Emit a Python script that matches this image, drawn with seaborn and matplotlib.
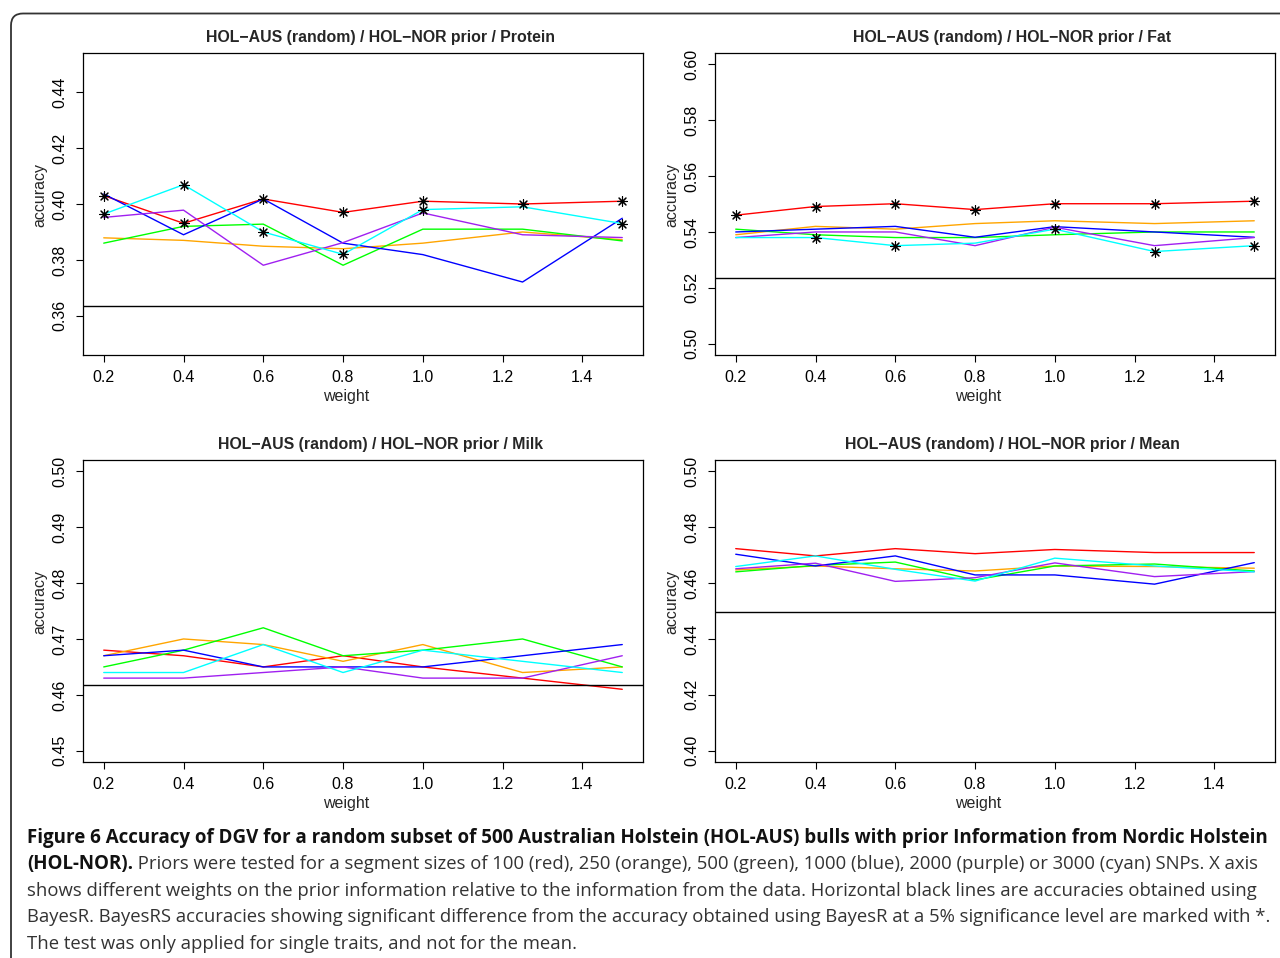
import matplotlib
matplotlib.use("Agg")
import matplotlib.pyplot as plt
import pandas as pd
import seaborn as sns
from matplotlib.patches import FancyBboxPatch
from matplotlib.transforms import IdentityTransform

# x values (weight on prior information)
WEIGHTS = [0.2, 0.4, 0.6, 0.8, 1.0, 1.25, 1.5]
SEGMENTS = ["100", "250", "500", "1000", "2000", "3000"]
SEG_COLORS = ["#FF0000", "#FFA500", "#00FF00", "#0000FF", "#A020F0", "#00FFFF"]

# accuracies, one row per segment size (same order as SEGMENTS)
protein_acc = [
    [0.4030, 0.3931, 0.4018, 0.3970, 0.4010, 0.4000, 0.4010],
    [0.3879, 0.3870, 0.3849, 0.3840, 0.3860, 0.3900, 0.3872],
    [0.3860, 0.3920, 0.3928, 0.3781, 0.3910, 0.3910, 0.3868],
    [0.4036, 0.3890, 0.4018, 0.3860, 0.3819, 0.3721, 0.3949],
    [0.3952, 0.3978, 0.3781, 0.3862, 0.3968, 0.3890, 0.3880],
    [0.3964, 0.4069, 0.3900, 0.3820, 0.3980, 0.3990, 0.3930],
]
fat_acc = [
    [0.5460, 0.5491, 0.5501, 0.5480, 0.5501, 0.5501, 0.5510],
    [0.5390, 0.5420, 0.5410, 0.5430, 0.5440, 0.5430, 0.5440],
    [0.5410, 0.5390, 0.5380, 0.5380, 0.5390, 0.5400, 0.5400],
    [0.5400, 0.5410, 0.5420, 0.5381, 0.5419, 0.5400, 0.5381],
    [0.5380, 0.5400, 0.5400, 0.5351, 0.5417, 0.5351, 0.5380],
    [0.5380, 0.5380, 0.5351, 0.5360, 0.5410, 0.5330, 0.5351],
]
milk_acc = [
    [0.468, 0.467, 0.465, 0.467, 0.465, 0.463, 0.461],
    [0.467, 0.470, 0.469, 0.466, 0.469, 0.464, 0.465],
    [0.465, 0.468, 0.472, 0.467, 0.468, 0.470, 0.465],
    [0.467, 0.468, 0.465, 0.465, 0.465, 0.467, 0.469],
    [0.463, 0.463, 0.464, 0.465, 0.463, 0.463, 0.467],
    [0.464, 0.464, 0.469, 0.464, 0.468, 0.466, 0.464],
]
mean_acc = [
    [0.4723, 0.4697, 0.4723, 0.4705, 0.4720, 0.4709, 0.4709],
    [0.4647, 0.4661, 0.4651, 0.4643, 0.4661, 0.4659, 0.4653],
    [0.4640, 0.4663, 0.4675, 0.4611, 0.4661, 0.4668, 0.4643],
    [0.4703, 0.4661, 0.4697, 0.4629, 0.4629, 0.4596, 0.4673],
    [0.4651, 0.4671, 0.4606, 0.4619, 0.4672, 0.4623, 0.4641],
    [0.4659, 0.4697, 0.4649, 0.4607, 0.4689, 0.4661, 0.4640],
]

# BayesR accuracy (horizontal black line)
protein_bayesr = 0.3634
fat_bayesr = 0.5235
milk_bayesr = 0.4617
mean_bayesr = 0.4496

# significance flags (1 = marked with *), per segment size
protein_sig = [
    [1, 1, 1, 1, 1, 1, 1],
    [0, 0, 0, 0, 0, 0, 0],
    [0, 0, 0, 0, 0, 0, 0],
    [0, 0, 0, 0, 0, 0, 0],
    [0, 0, 0, 0, 0, 0, 0],
    [1, 1, 1, 1, 1, 0, 1],
]
fat_sig = [
    [1, 1, 1, 1, 1, 1, 1],
    [0, 0, 0, 0, 0, 0, 0],
    [0, 0, 0, 0, 0, 0, 0],
    [0, 0, 0, 0, 0, 0, 0],
    [0, 0, 0, 0, 0, 0, 0],
    [0, 1, 1, 0, 1, 1, 1],
]
no_sig = [[0] * 7 for _ in SEGMENTS]

X_TICKS = [0.2, 0.4, 0.6, 0.8, 1.0, 1.2, 1.4]
protein_yticks = [0.36, 0.38, 0.40, 0.42, 0.44]
fat_yticks = [0.50, 0.52, 0.54, 0.56, 0.58, 0.60]
milk_yticks = [0.45, 0.46, 0.47, 0.48, 0.49, 0.50]
mean_yticks = [0.40, 0.42, 0.44, 0.46, 0.48, 0.50]

CAPTION_BOLD_1 = ("Figure 6 Accuracy of DGV for a random subset of 500 Australian Holstein "
                  "(HOL-AUS) bulls with prior Information from Nordic Holstein")
CAPTION_BOLD_2 = "(HOL-NOR)."
CAPTION_LINES = [
    " Priors were tested for a segment sizes of 100 (red), 250 (orange), 500 (green), "
    "1000 (blue), 2000 (purple) or 3000 (cyan) SNPs. X axis",
    "shows different weights on the prior information relative to the information from "
    "the data. Horizontal black lines are accuracies obtained using",
    "BayesR. BayesRS accuracies showing significant difference from the accuracy obtained "
    "using BayesR at a 5% significance level are marked with *.",
    "The test was only applied for single traits, and not for the mean.",
]


def to_long(acc, sig):
    rows = []
    for seg, vals, flags in zip(SEGMENTS, acc, sig):
        for w, v, f in zip(WEIGHTS, vals, flags):
            rows.append({"weight": w, "accuracy": v, "segment": seg, "sig": f})
    return pd.DataFrame(rows)


def draw_panel(ax, title, acc, sig, bayesr, ylim, yticks):
    df = to_long(acc, sig)
    sns.lineplot(data=df, x="weight", y="accuracy", hue="segment",
                 hue_order=SEGMENTS, palette=SEG_COLORS, errorbar=None,
                 linewidth=1.0, legend=False, ax=ax)
    stars = df[df["sig"] == 1]
    if len(stars):
        sns.scatterplot(data=stars, x="weight", y="accuracy", marker=(8, 2, 0),
                        color="black", s=50, linewidth=0.8, ax=ax, zorder=5)
    ax.axhline(bayesr, color="black", linewidth=1.0)

    ax.set_xlim(0.148, 1.552)
    ax.set_ylim(*ylim)
    ax.set_xticks(X_TICKS)
    ax.set_xticklabels([f"{t:.1f}" for t in X_TICKS])
    ax.set_yticks(yticks)
    ax.set_yticklabels([f"{t:.2f}" for t in yticks], rotation=90, va="center")
    ax.tick_params(direction="out", length=5, width=0.8, labelsize=11.5,
                   color="black", labelcolor="black", pad=6)
    for sp in ax.spines.values():
        sp.set_visible(True)
        sp.set_color("black")
        sp.set_linewidth(0.9)
    # titles/labels sit slightly off the plot centre in the original
    ax.set_title(title, fontsize=11.4, fontweight="bold", pad=8, x=0.5 + 17 / 560)
    ax.set_xlabel("weight", fontsize=11.5, labelpad=2)
    ax.xaxis.set_label_coords(0.5 - 17 / 560, -0.113)
    ax.set_ylabel("accuracy", fontsize=11.5)
    ax.yaxis.set_label_coords(-36 / 560, 0.5 + 9 / 302)


sns.set_theme(style="ticks")
plt.rcParams["font.family"] = ["Liberation Sans", "DejaVu Sans"]
plt.rcParams["axes.unicode_minus"] = True

W, H = 1280, 958
fig = plt.figure(figsize=(W / 100, H / 100), dpi=100)
fig.patch.set_facecolor("white")


def add_ax(left, top, width=560, height=302):
    return fig.add_axes([left / W, 1 - (top + height) / H, width / W, height / H])


ax1 = add_ax(83, 53)
ax2 = add_ax(715, 53)
ax3 = add_ax(83, 460)
ax4 = add_ax(715, 460)

prefix = "HOL\u2212AUS (random) / HOL\u2212NOR prior / "
draw_panel(ax1, prefix + "Protein", protein_acc, protein_sig, protein_bayesr,
           (0.346, 0.454), protein_yticks)
draw_panel(ax2, prefix + "Fat", fat_acc, fat_sig, fat_bayesr,
           (0.496, 0.604), fat_yticks)
draw_panel(ax3, prefix + "Milk", milk_acc, no_sig, milk_bayesr,
           (0.448, 0.502), milk_yticks)
draw_panel(ax4, prefix + "Mean", mean_acc, no_sig, mean_bayesr,
           (0.396, 0.504), mean_yticks)

# rounded frame around figure + caption
frame = FancyBboxPatch((11, -30), 1320, H - 13.5 + 30,
                       boxstyle="round,pad=0,rounding_size=12",
                       transform=IdentityTransform(), fill=False,
                       edgecolor="#333333", linewidth=1.3)
fig.add_artist(frame)

# caption
cap_font = ["Open Sans", "DejaVu Sans"]
bold_size = 13.5
reg_size = 13.3
x0 = 27 / W
line_y = [838, 864, 891, 917, 944]
fig.text(x0, 1 - line_y[0] / H, CAPTION_BOLD_1, family=cap_font, size=bold_size,
         weight="bold", color="#111111", va="center")
bold2 = fig.text(x0, 1 - line_y[1] / H, CAPTION_BOLD_2, family=cap_font, size=bold_size,
                 weight="bold", color="#111111", va="center")
renderer = fig.canvas.get_renderer()
bb = bold2.get_window_extent(renderer)
fig.text(bb.x1 / W, 1 - line_y[1] / H, CAPTION_LINES[0], family=cap_font,
         size=reg_size, color="#333333", va="center")
for yy, line in zip(line_y[2:], CAPTION_LINES[1:]):
    fig.text(x0, 1 - yy / H, line, family=cap_font, size=reg_size,
             color="#333333", va="center")

fig.savefig("out.png", dpi=100)
